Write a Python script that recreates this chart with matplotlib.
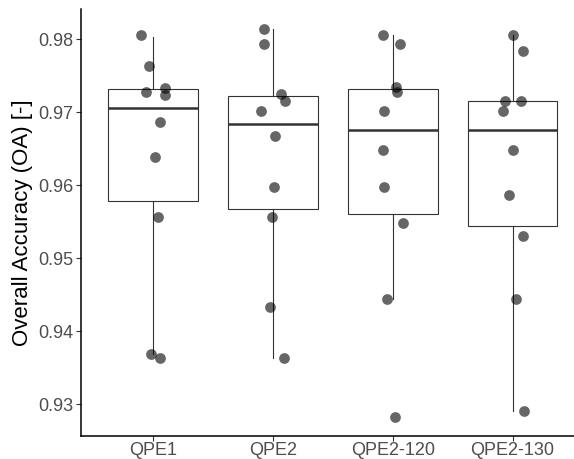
import matplotlib
matplotlib.use("Agg")
import matplotlib.pyplot as plt

# groups and jittered points
groups = ["QPE1", "QPE2", "QPE2-120", "QPE2-130"]
point_x = [
    [-0.10, -0.03, -0.06, 0.10, 0.10, 0.06, 0.02, 0.04, -0.02, 0.06],
    [-0.07, -0.07, 0.07, 0.10, -0.10, 0.02, 0.01, -0.01, -0.02, 0.09],
    [-0.08, 0.06, 0.03, 0.04, -0.07, -0.08, -0.07, 0.09, -0.05, 0.02],
    [0.00, 0.09, -0.06, 0.07, -0.08, 0.00, -0.03, 0.09, 0.03, 0.10],
]
point_y = [
    [0.9805, 0.9763, 0.9728, 0.9733, 0.9724, 0.9686, 0.9639, 0.9557, 0.9369, 0.9363],
    [0.9814, 0.9793, 0.9725, 0.9715, 0.9701, 0.9667, 0.9598, 0.9557, 0.9433, 0.9363],
    [0.9805, 0.9793, 0.9734, 0.9727, 0.9701, 0.9648, 0.9598, 0.9548, 0.9444, 0.9282],
    [0.9805, 0.9783, 0.9715, 0.9715, 0.9701, 0.9648, 0.9587, 0.9530, 0.9444, 0.9291],
]

# box statistics
whisker_lo = [0.9369, 0.9363, 0.9444, 0.9291]
q1 = [0.9578, 0.9567, 0.9561, 0.9544]
medians = [0.9705, 0.9683, 0.9675, 0.9675]
q3 = [0.9731, 0.9722, 0.9732, 0.9715]
whisker_hi = [0.9803, 0.9814, 0.9805, 0.9805]

yticks = [0.93, 0.94, 0.95, 0.96, 0.97, 0.98]

plt.rcParams["font.family"] = ["Liberation Sans", "DejaVu Sans"]

fig = plt.figure(figsize=(5.74, 4.59), dpi=100)
ax = fig.add_axes([81 / 574, 1 - 436 / 459, 1 - 81 / 574, 427 / 459])

stats = []
for i, g in enumerate(groups):
    stats.append({"label": g, "whislo": whisker_lo[i], "q1": q1[i], "med": medians[i],
                  "q3": q3[i], "whishi": whisker_hi[i], "fliers": []})

pos = list(range(1, len(groups) + 1))
ax.bxp(stats, positions=pos, widths=0.75, patch_artist=True, showcaps=False,
       boxprops=dict(facecolor="white", edgecolor="#333333", linewidth=0.8),
       whiskerprops=dict(color="#333333", linewidth=0.8),
       medianprops=dict(color="#333333", linewidth=1.8),
       zorder=2)

for i in range(len(groups)):
    xs = [pos[i] + dx for dx in point_x[i]]
    ax.scatter(xs, point_y[i], s=60, color="black", alpha=0.6, linewidths=0, zorder=3)

ax.set_xlim(0.4, 4.513)
ax.set_ylim(0.92566, 0.98411)
ax.set_xticks(pos)
ax.set_xticklabels(groups)
ax.set_yticks(yticks)
ax.set_yticklabels([f"{t:.2f}" for t in yticks])
ax.set_ylabel("Overall Accuracy (OA) [-]", fontsize=16, color="black", labelpad=4)

for s in ["top", "right"]:
    ax.spines[s].set_visible(False)
for s in ["left", "bottom"]:
    ax.spines[s].set_linewidth(1.1)
    ax.spines[s].set_color("black")
ax.tick_params(axis="both", colors="#333333", labelsize=13, length=3.5, width=0.8,
               labelcolor="#4D4D4D")
ax.tick_params(axis="x", pad=1)
ax.tick_params(axis="y", pad=2)

fig.savefig("out.png", dpi=100)
